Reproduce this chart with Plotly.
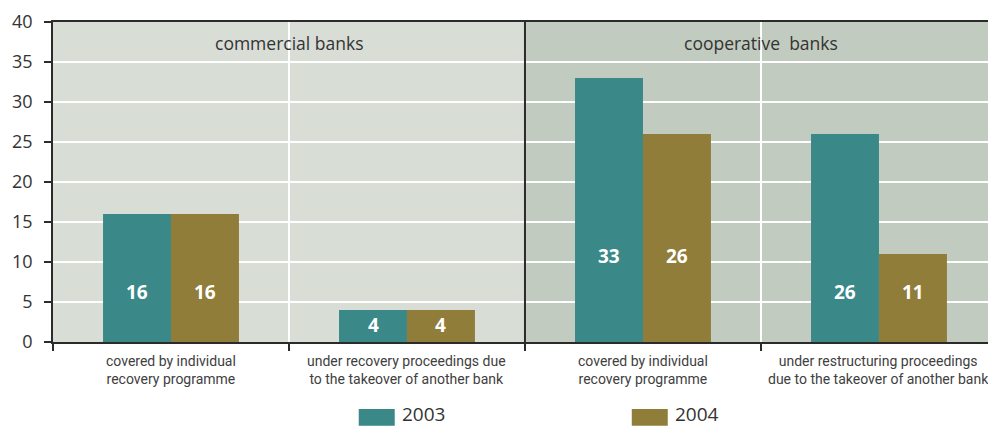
import plotly.graph_objects as go

# Number of banks by category, 2003 vs 2004
categories = [
    "covered by individual<br>recovery programme",
    "under recovery proceedings due<br>to the takeover of another bank",
    "covered by individual<br>recovery programme",
    "under restructuring proceedings<br>due to the takeover of another bank",
]
groups = ["commercial banks", "cooperative  banks"]
series_names = ["2003", "2004"]
values_2003 = [16, 4, 33, 26]
values_2004 = [16, 4, 26, 11]
y_ticks = [0, 5, 10, 15, 20, 25, 30, 35, 40]

# heights at which the value labels sit inside the bars
label_y = [6.25, 2.1, 10.75, 6.25]

TEAL = "#3a8988"
OLIVE = "#917d3a"
BG_LEFT = "#d8ddd6"
BG_RIGHT = "#c1cbbf"
DARK = "#2b2b2b"
TXT = "#333333"

xpos = list(range(len(categories)))

fig = go.Figure()
fig.add_trace(go.Bar(x=xpos, y=values_2003, name=series_names[0],
                     marker=dict(color=TEAL, line=dict(width=0))))
fig.add_trace(go.Bar(x=xpos, y=values_2004, name=series_names[1],
                     marker=dict(color=OLIVE, line=dict(width=0))))

shapes = [
    dict(type="rect", xref="x", yref="paper", x0=-0.5, x1=1.5, y0=0, y1=1,
         fillcolor=BG_LEFT, line=dict(width=0), layer="below"),
    dict(type="rect", xref="x", yref="paper", x0=1.5, x1=3.5, y0=0, y1=1,
         fillcolor=BG_RIGHT, line=dict(width=0), layer="below"),
    dict(type="line", xref="x", yref="paper", x0=1.5, x1=1.5, y0=-0.027, y1=1,
         line=dict(color=DARK, width=2), layer="above"),
]

annotations = []
# panel titles
for i, g in enumerate(groups):
    annotations.append(dict(x=0.5 + 2 * i, y=0.934, xref="x", yref="paper",
                            yanchor="middle",
                            text=g, showarrow=False,
                            font=dict(family="Open Sans", size=17.5, color=TXT)))
# category labels under the axis
for i, c in enumerate(categories):
    annotations.append(dict(x=i, y=-0.028, xref="x", yref="paper", yanchor="top",
                            text=c, showarrow=False, align="center",
                            font=dict(family="Liberation Sans Narrow, Roboto", size=14,
                                      color="#404040")))
# value labels inside bars
off = 0.144
for i in xpos:
    for dx, v in ((-off, values_2003[i]), (off, values_2004[i])):
        annotations.append(dict(x=i + dx, y=label_y[i], xref="x", yref="y",
                                text=f"<b>{v}</b>", showarrow=False,
                                font=dict(family="Open Sans", size=19, color="white")))

# legend drawn below the plot
legend_items = [(series_names[0], TEAL, 0.327), (series_names[1], OLIVE, 0.619)]
for name, col, x0 in legend_items:
    shapes.append(dict(type="rect", xref="paper", yref="paper",
                       x0=x0, x1=x0 + 0.0385, y0=-0.262, y1=-0.209,
                       fillcolor=col, line=dict(width=0)))
    annotations.append(dict(x=x0 + 0.044, y=-0.224, xref="paper", yref="paper",
                            xanchor="left", yanchor="middle", text=name,
                            showarrow=False,
                            font=dict(family="Open Sans", size=19, color=TXT)))

fig.update_layout(
    width=988, height=427,
    margin=dict(l=53, r=0, t=22, b=85),
    paper_bgcolor="white", plot_bgcolor="rgba(0,0,0,0)",
    barmode="group", bargap=0.424, bargroupgap=0,
    showlegend=False,
    shapes=shapes, annotations=annotations,
    xaxis=dict(range=[-0.5, 3.462], tickvals=[-0.5, 0.5, 1.5, 2.5, 3.5],
               showticklabels=False, ticks="outside", ticklen=7,
               tickcolor=DARK, tickwidth=1.5,
               showgrid=True, gridcolor="white", gridwidth=1.5,
               showline=True, linecolor=DARK, linewidth=1.5, mirror=True,
               zeroline=False),
    yaxis=dict(range=[0, 40], tickvals=y_ticks, ticks="outside", ticklen=7,
               tickcolor=DARK, tickwidth=1.5, ticklabelstandoff=8,
               showgrid=True, gridcolor="white", gridwidth=1.5,
               showline=True, linecolor=DARK, linewidth=1.5,
               zeroline=False,
               tickfont=dict(family="Open Sans", size=18, color=TXT)),
)

fig.write_html("out.html")
